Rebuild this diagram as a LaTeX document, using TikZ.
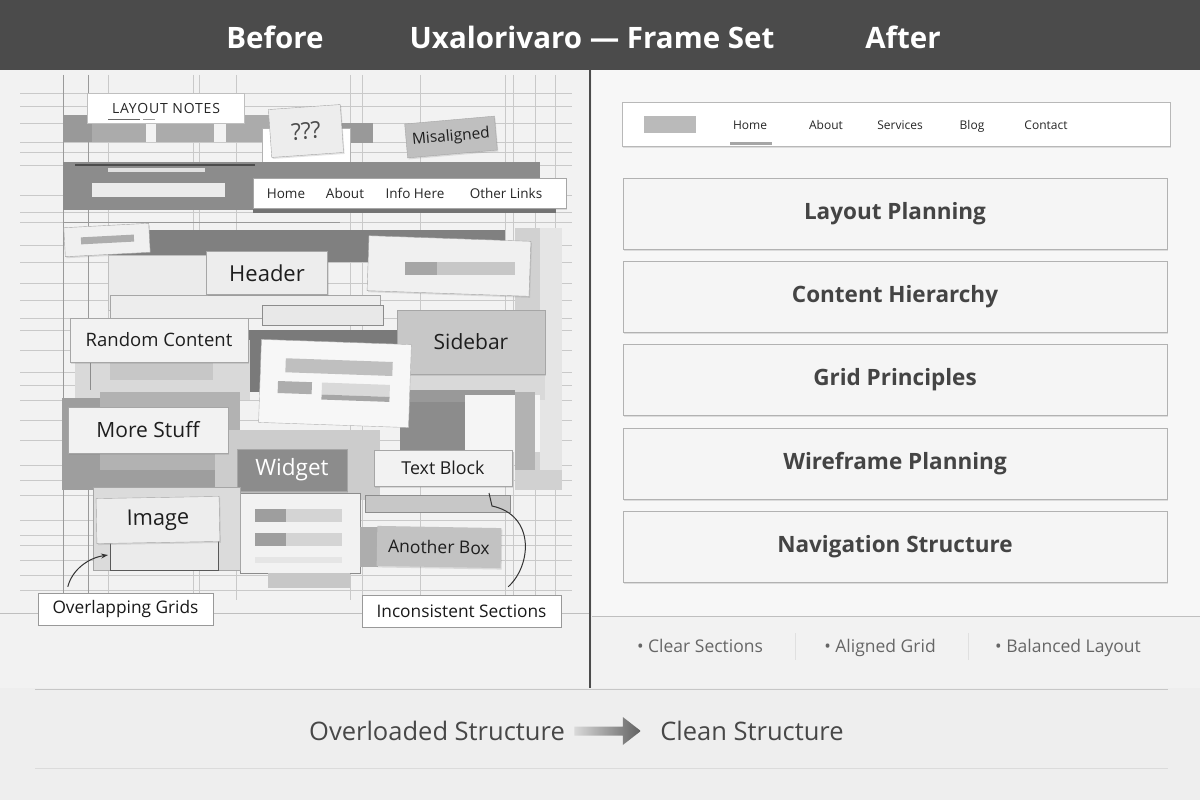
\documentclass[tikz,border=0pt]{standalone}
\usepackage{fontspec}
\setmainfont{Open Sans}
\usetikzlibrary{shadows,arrows.meta,calc}
\definecolor{bg}{HTML}{EEEEEE}
\definecolor{leftbg}{HTML}{F2F2F2}
\definecolor{topbar}{HTML}{4B4B4B}
\definecolor{gridl}{HTML}{C9C9C9}
\definecolor{gridd}{HTML}{9A9A9A}
\definecolor{txt}{HTML}{1E1E1E}
\definecolor{rtxt}{HTML}{444444}
\definecolor{btxt}{HTML}{666666}
\tikzset{
  sh/.style={drop shadow={shadow xshift=1pt,shadow yshift=-1.5pt,opacity=.22}},
  card/.style={draw=black!35,inner sep=0pt,sh,text=txt},
  plan/.style={draw=black!30,fill=white!96!black,inner sep=0pt,minimum width=544pt,minimum height=71pt,
     font=\fontsize{22.5}{26}\selectfont\bfseries,text=rtxt,sh},
  navt/.style={anchor=base,font=\fontsize{12}{14}\selectfont,text=black!85},
  bul/.style={anchor=base,font=\fontsize{17.5}{20}\selectfont,text=btxt},
  call/.style={draw=black!40,fill=white,inner sep=0pt,font=\fontsize{17.3}{20}\selectfont,text=black!90},
  title/.style={text=white,font=\fontsize{29.5}{33}\selectfont\bfseries}
}
\begin{document}
\begin{tikzpicture}[x=1pt,y=-1pt]
\useasboundingbox (0,0) rectangle (1200,800);
\fill[bg] (0,0) rectangle (1200,800);
\fill[leftbg] (0,70) rectangle (590,688);
\fill[white!97!black] (592,70) rectangle (1200,616);
\fill[white!95!black] (592,616) rectangle (1200,688);
% top bar
\fill[topbar] (0,0) rectangle (1200,70);
\node[title] (tb) at (275,37) {Before};
\node[title] (tt) at (592,37) {Uxalorivaro — Frame Set};
\node[title] (ta) at (903,37) {After};

% ---------------- LEFT: grid lines
\foreach \y in {93,106,123,142,152,165,195,212,222,245,262,283,300,318,330,350,372,385,400,420,440,465,480,495,520,535,545,560,575,590}
  \draw[gridl,line width=.6pt] (20,\y) -- (572,\y);
\foreach \x in {108,193,199,236,350,362,420,505,513,535,555}
  \draw[gridl,line width=.6pt] (\x,75) -- (\x,600);
\foreach \x in {63,88}
  \draw[gridd,line width=.7pt] (\x,75) -- (\x,600);
\draw[black!25] (0,613) -- (590,613);

% row of gray bars
\fill[black!40] (63,115) rectangle (92,142);
\fill[black!33] (92,115) rectangle (146,142);
\fill[black!33] (156,115) rectangle (214,142);
\fill[black!33] (226,115) rectangle (300,142);
\fill[black!40] (338,123) rectangle (373,143);
\draw[black!45] (300,142) -- (345,142);
% LAYOUT NOTES
\node[draw=black!25,fill=white,inner sep=0pt,minimum width=157pt,minimum height=30pt,text=black!85,
  font=\fontsize{14}{16}\selectfont\addfontfeature{LetterSpace=6}] (ln) at (166,108) {LAYOUT NOTES};
\draw[black!60,line width=1pt] (108,119) -- (140,119);
\draw[black!40,line width=1pt] (143,119) -- (155,119);
% ??? card
\fill[white] (262,128) rectangle (350,172);
\draw[black!30] (262,128) rectangle (350,172);
\node[card,fill=black!7,minimum width=72pt,minimum height=48pt,rotate=4,
  font=\fontsize{23}{26}\selectfont,text=black!70] (qq) at (306,131) {???};
% Misaligned
\node[card,fill=black!25,minimum width=90pt,minimum height=34pt,rotate=5,
  font=\fontsize{15.5}{18}\selectfont] (mis) at (451,137) {Misaligned};

% dark band
\fill[black!45] (63,162) rectangle (540,210);
\draw[black!70,line width=1.5pt] (75,165) -- (255,165);
\fill[black!12] (108,168) rectangle (205,172);
\fill[black!8] (92,183) rectangle (225,197);
\fill[black!55] (253,205) rectangle (556,213);
\node[card,fill=white,minimum width=313pt,minimum height=30pt] (nav) at (409.5,193) {};
\node[navt,font=\fontsize{13.5}{15}\selectfont] (n1) at (286,198.5) {Home};
\node[navt,font=\fontsize{13.5}{15}\selectfont] (n2) at (345,198.5) {About};
\node[navt,font=\fontsize{13.5}{15}\selectfont] (n3) at (415,198.5) {Info Here};
\node[navt,font=\fontsize{13.5}{15}\selectfont] (n4) at (506,198.5) {Other Links};
\draw[black!40] (63,222) -- (340,222);

% small card
\fill[black!50] (108,230) rectangle (505,262);
\fill[black!18] (515,228) rectangle (562,490);
\fill[black!10] (540,228) rectangle (562,470);
\node[card,fill=black!6,minimum width=85pt,minimum height=29pt,rotate=3] (sc) at (107,240) {};
\fill[black!32,rotate around={3:(107,240)}] (81,236) rectangle (134,243);
\fill[black!8] (108,255) rectangle (215,310);
\draw[black!25] (108,255) rectangle (215,310);
% right card with bar
\node[card,fill=black!6,minimum width=162pt,minimum height=55pt,rotate=-2] (rc) at (449,266) {};
\fill[black!22] (405,262) rectangle (515,275);
\fill[black!35] (405,262) rectangle (437,275);
% under header stripes
\fill[black!7] (110,295) rectangle (380,318);
\draw[black!35] (110,295) rectangle (380,318);
\fill[black!52] (215,330) rectangle (400,392);
\fill[black!9] (262,305) rectangle (383,325);
\draw[black!45] (262,305) rectangle (383,325);
% Header
\node[card,fill=black!7,minimum width=121pt,minimum height=43pt,
  font=\fontsize{22}{25}\selectfont] (hdr) at (267,273) {Header};
% area behind random content
\fill[black!15] (75,340) rectangle (250,400);
\fill[black!22] (110,362) rectangle (213,380);
\draw[black!45] (90,345) -- (90,390);
% Random Content
\node[card,fill=black!5,minimum width=178pt,minimum height=44pt,
  font=\fontsize{18.5}{21}\selectfont] (rnd) at (159,340) {Random Content};
% Sidebar
\fill[black!15] (395,374) rectangle (545,400);
\node[card,fill=black!22,minimum width=148pt,minimum height=64pt,
  font=\fontsize{21}{24}\selectfont] (sb) at (471,342) {Sidebar};
% area below sidebar
\fill[black!40] (395,390) rectangle (515,402);
\fill[black!45] (400,402) rectangle (465,462);
\fill[black!4] (465,395) rectangle (540,452);
\draw[black!45] (420,402) -- (420,470);
\fill[black!30] (515,392) rectangle (535,470);
% white card with bars
\begin{scope}[rotate around={-2:(335,383)}]
\fill[black!3] (260,342) rectangle (410,425);
\draw[black!30] (260,342) rectangle (410,425);
\fill[black!25] (285,360) rectangle (392,374);
\fill[black!32] (278,383) rectangle (312,395);
\fill[black!15] (322,383) rectangle (390,395);
\fill[black!35] (322,395) rectangle (390,400);
\end{scope}
% left gray area + More Stuff
\fill[black!38] (62,398) rectangle (240,490);
\fill[black!30] (100,392) rectangle (240,470);
\fill[black!20] (215,430) rectangle (380,500);
\node[card,fill=black!5,minimum width=160pt,minimum height=46pt,
  font=\fontsize{21}{24}\selectfont] (ms) at (148,430) {More Stuff};
% Widget
\node[card,fill=black!45,minimum width=110pt,minimum height=42pt,text=white,
  font=\fontsize{22.5}{25}\selectfont] (wg) at (292,470) {Widget};
% card under widget
\fill[black!5] (240,493) rectangle (360,573);
\draw[black!45] (240,493) rectangle (360,573);
\fill[black!38] (255,509) rectangle (286,522);
\fill[black!17] (286,509) rectangle (342,522);
\fill[black!38] (255,533) rectangle (286,546);
\fill[black!17] (286,533) rectangle (342,546);
\fill[black!10] (255,557) rectangle (342,563);
\fill[black!22] (268,573) rectangle (350,588);
% Text Block
\fill[black!22] (365,495) rectangle (510,512);
\draw[black!45] (365,495) rectangle (510,512);
\node[card,fill=black!5,minimum width=138pt,minimum height=36pt,
  font=\fontsize{17.8}{20}\selectfont] (tbk) at (443,468) {Text Block};
% Another Box
\fill[black!32] (360,527) rectangle (378,567);
\node[card,fill=black!24,minimum width=124pt,minimum height=40pt,draw=none,rotate=-1,
  font=\fontsize{17.5}{20}\selectfont] (ab) at (439,547) {Another Box};
% Image
\fill[black!14] (93,487) rectangle (240,570);
\draw[black!35] (93,487) rectangle (240,570);
\fill[black!8] (110,540) rectangle (218,570);
\draw[black!65] (110,540) rectangle (218,570);
\node[card,fill=black!7,minimum width=123pt,minimum height=45pt,rotate=1,
  font=\fontsize{21.7}{24}\selectfont] (img) at (158,520) {Image};
% callouts
\node[call,minimum width=175pt,minimum height=32pt] (og) at (125.5,609) {Overlapping Grids};
\node[call,minimum width=199pt,minimum height=32pt] (is) at (461.5,611) {Inconsistent Sections};
\coordinate (ogtip) at (108,555);
\coordinate (istip) at (492,506);
\draw[black!80,line width=1pt,-{Stealth[length=7pt,width=5pt,open]}]
  ([xshift=30pt,yshift=6pt]og.north west) .. controls (72,570) and (88,558) .. (ogtip);
\draw[black!80,line width=1pt]
  ([xshift=-53pt,yshift=8pt]is.north east) .. controls (532,565) and (535,515) .. (istip)
  -- (489,493);

% divider
\draw[black!70,line width=1.6pt] (590,70) -- (590,688);

% ---------------- RIGHT
\node[draw=black!28,fill=white,minimum width=548pt,minimum height=44pt,inner sep=0pt,sh] (topnav) at (896,124) {};
\fill[black!27] (644,116) rectangle (696,133);
\node[navt] (h1) at (750,129) {Home};
\node[navt] (h2) at (826,129) {About};
\node[navt] (h3) at (900,129) {Services};
\node[navt] (h4) at (972,129) {Blog};
\node[navt] (h5) at (1046,129) {Contact};
\fill[black!35] (730,142) rectangle (772,145);

\node[plan] (p1) at (895,214) {Layout Planning};
\node[plan] (p2) at (895,297) {Content Hierarchy};
\node[plan] (p3) at (895,380) {Grid Principles};
\node[plan] (p4) at (895,464) {Wireframe Planning};
\node[plan] (p5) at (895,547) {Navigation Structure};

\draw[black!25] (592,616) -- (1200,616);
\node[bul] (b1) at (700,652) {• Clear Sections};
\node[bul] (b2) at (880,652) {• Aligned Grid};
\node[bul] (b3) at (1068,652) {• Balanced Layout};
\draw[black!12,line width=1pt] (795,633) -- (795,660);
\draw[black!12,line width=1pt] (968,633) -- (968,660);

% bottom
\draw[black!22,line width=1pt] (35,689) -- (1168,689);
\draw[black!14,line width=1pt] (35,768) -- (1168,768);
\node[font=\fontsize{25.5}{29}\selectfont,text=black!72] (ol) at (437,731) {Overloaded Structure};
\node[font=\fontsize{25.5}{29}\selectfont,text=black!72] (cl) at (752,731) {Clean Structure};
\shade[left color=black!15,right color=black!62]
  ($(ol.east)+(6,-4.5)$) -- ($(cl.west)+(-34,-4.5)$) -- ($(cl.west)+(-34,-14)$) --
  ($(cl.west)+(-16,0)$) -- ($(cl.west)+(-34,14)$) -- ($(cl.west)+(-34,4.5)$) --
  ($(ol.east)+(6,4.5)$) -- cycle;
\end{tikzpicture}
\end{document}
